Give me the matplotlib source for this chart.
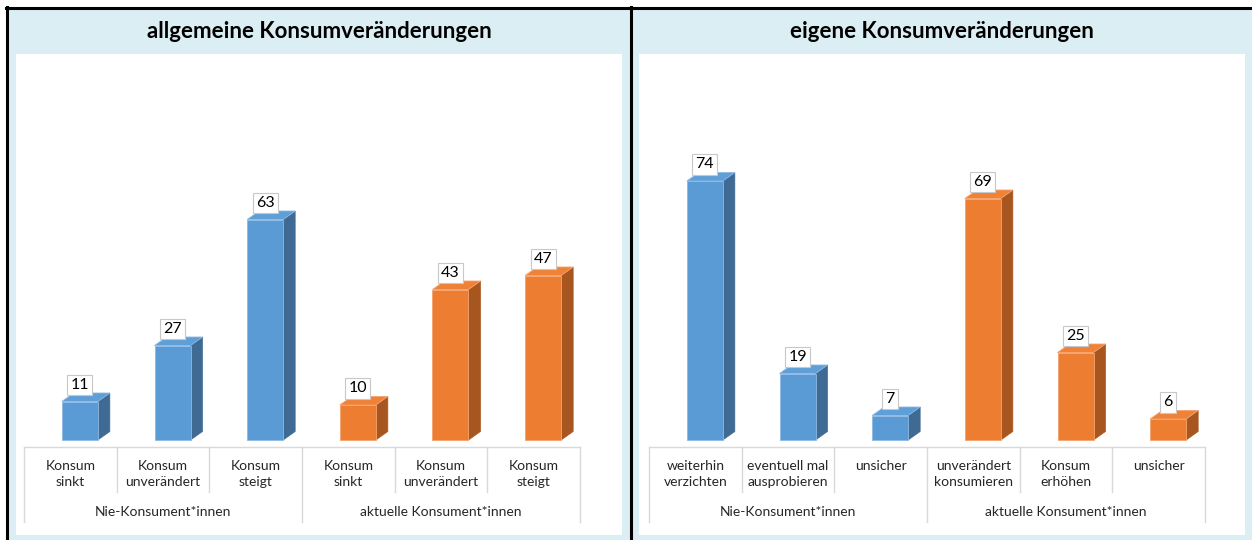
import matplotlib
matplotlib.use("Agg")
import matplotlib.pyplot as plt
from matplotlib.patches import Rectangle, Polygon
from matplotlib.lines import Line2D

# ---------------- data ----------------
left_title = "allgemeine Konsumveränderungen"
left_categories = ["Konsum\nsinkt", "Konsum\nunverändert", "Konsum\nsteigt",
                   "Konsum\nsinkt", "Konsum\nunverändert", "Konsum\nsteigt"]
left_values = [11, 27, 63, 10, 43, 47]

right_title = "eigene Konsumveränderungen"
right_categories = ["weiterhin\nverzichten", "eventuell mal\nausprobieren", "unsicher",
                    "unverändert\nkonsumieren", "Konsum\nerhöhen", "unsicher"]
right_values = [74, 19, 7, 69, 25, 6]

groups = ["Nie-Konsument*innen", "aktuelle Konsument*innen"]
group_sizes = [3, 3]

# ---------------- style ----------------
W, H, DPI = 1252, 540, 100
FONT = "Lato"
plt.rcParams["font.family"] = [FONT, "DejaVu Sans"]

BG_BLUE = "#DAEEF3"
FRONT = {0: "#5B9BD5", 1: "#ED7D31"}
SIDE = {0: "#3E6A94", 1: "#A8561F"}
TOP = {0: "#5F9FD8", 1: "#EF8237"}
EDGE = {0: "#8DB9E3", 1: "#F4A36E"}
GRID = "#D9D9D9"

S = 3.5           # pixels per value unit
BASE = 440        # baseline pixel row
AX_TOP = 54
AX_BOT = 526

fig = plt.figure(figsize=(W / DPI, H / DPI), dpi=DPI)
fig.patch.set_facecolor("white")


def rect(x, y, w, h, **kw):
    fig.add_artist(Rectangle((x / W, 1 - (y + h) / H), w / W, h / H,
                             transform=fig.transFigure, **kw))


def line(x0, y0, x1, y1, **kw):
    fig.add_artist(Line2D([x0 / W, x1 / W], [1 - y0 / H, 1 - y1 / H],
                          transform=fig.transFigure, **kw))


# background panels
rect(6, 7, W - 6, H - 7, facecolor=BG_BLUE, edgecolor="none", zorder=-2)
rect(16, AX_TOP, 606, 535 - AX_TOP, facecolor="white", edgecolor="none", zorder=-1)
rect(639, AX_TOP, 606, 535 - AX_TOP, facecolor="white", edgecolor="none", zorder=-1)
line(6, 7.5, W, 7.5, color="black", lw=2.2, zorder=5)
line(6.8, 7, 6.8, H, color="black", lw=2.2, zorder=5)
line(631, 7, 631, H, color="black", lw=2.2, zorder=5)


def px2v(p):
    """pixel distance -> value units"""
    return p / S


def panel(x_left, x_right, title, title_cx, cats, values):
    n = len(cats)
    ax = fig.add_axes([x_left / W, 1 - AX_BOT / H, (x_right - x_left) / W,
                       (AX_BOT - AX_TOP) / H])
    ax.set_zorder(2)
    ax.set_axis_off()
    ax.patch.set_alpha(0)
    ax.set_xlim(-0.5, n - 0.5)
    ax.set_ylim(-px2v(AX_BOT - BASE), px2v(BASE - AX_TOP))
    cat_px = (x_right - x_left) / n

    fig.text(title_cx / W, 1 - 32 / H, title, ha="center", va="center",
             fontsize=16, fontweight="bold", color="#000000", zorder=6)

    off = 9.5 / cat_px
    bw = 36 / cat_px
    ddx = 12 / cat_px
    ddy = px2v(8.5)

    gidx = []
    for g, size in enumerate(group_sizes):
        gidx += [g] * size

    xs = list(range(n))
    bars = ax.bar([x + off for x in xs], values, width=bw,
                  color=[FRONT[g] for g in gidx],
                  edgecolor=[EDGE[g] for g in gidx], linewidth=0.6, zorder=3)
    for b, g, v in zip(bars, gidx, values):
        x0 = b.get_x()
        x1 = x0 + b.get_width()
        h = b.get_height()
        ax.add_patch(Polygon([(x1, 0), (x1 + ddx, ddy), (x1 + ddx, h + ddy), (x1, h)],
                             closed=True, facecolor=SIDE[g], edgecolor=SIDE[g],
                             linewidth=0.5, zorder=2))
        ax.add_patch(Polygon([(x0, h), (x0 + ddx, h + ddy), (x1 + ddx, h + ddy), (x1, h)],
                             closed=True, facecolor=TOP[g], edgecolor=EDGE[g],
                             linewidth=0.6, zorder=2.5))
        ax.text((x0 + x1) / 2, h + px2v(16.5), str(v), ha="center", va="center",
                fontsize=11.5, color="black", zorder=6,
                bbox=dict(boxstyle="square,pad=0.2", facecolor="white",
                          edgecolor="#C8C8C8", linewidth=0.8))

    # category table
    ax.plot([-0.5, n - 0.5], [-px2v(7), -px2v(7)], color=GRID, lw=1, zorder=1,
            clip_on=False)
    bounds = [0]
    for s in group_sizes:
        bounds.append(bounds[-1] + s)
    for k in range(n + 1):
        long_ = k in bounds
        yb = -px2v(522 - BASE) if long_ else -px2v(492 - BASE)
        ax.plot([k - 0.5, k - 0.5], [-px2v(7), yb], color=GRID, lw=1,
                zorder=1, clip_on=False)
    for x, c in zip(xs, cats):
        ax.text(x, -px2v(459.5 - BASE), c, ha="center", va="top", fontsize=10,
                color="#262626", linespacing=1.5)
    for gi, (gname, s) in enumerate(zip(groups, group_sizes)):
        cx = bounds[gi] + s / 2 - 0.5
        ax.text(cx, -px2v(512.5 - BASE), gname, ha="center", va="center",
                fontsize=10, color="#262626")
    return ax


panel(24, 580, left_title, 319, left_categories, left_values)
panel(649, 1205, right_title, 942, right_categories, right_values)

fig.savefig("out.png", dpi=DPI)
